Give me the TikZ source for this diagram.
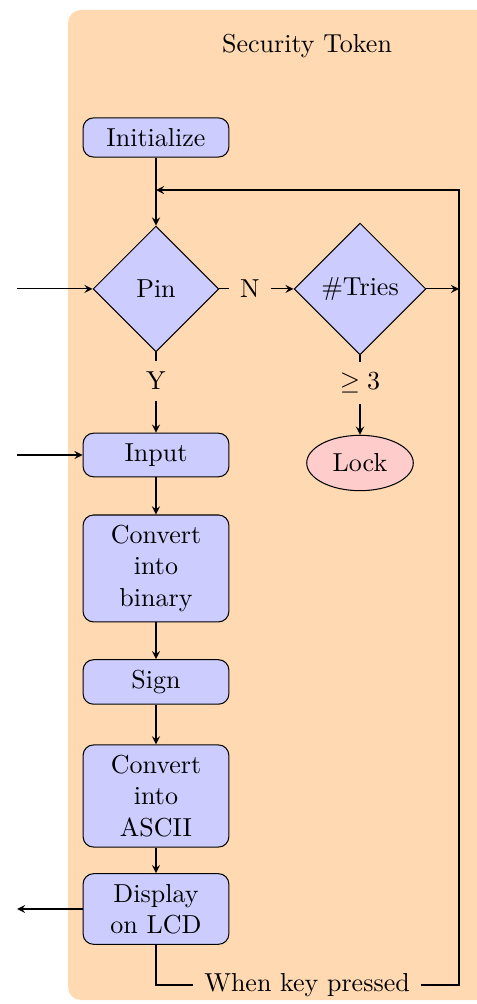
\documentclass[tikz,border=0pt]{standalone}
\usepackage{amsmath}
\usepackage{amssymb}
\usetikzlibrary{shapes.geometric}

\begin{document}
\begin{tikzpicture}[>=stealth,
    block/.style={draw, fill=blue!20, rounded corners=4pt, align=center,
      text width=1.4cm, minimum width=1.97cm, inner sep=4pt},
    decision/.style={draw, diamond, aspect=1, fill=blue!20,
      minimum width=1.7cm, minimum height=1.7cm, inner sep=3pt},
    stopper/.style={draw, ellipse, fill=red!20, inner sep=4pt},
    tag/.style={inner sep=4pt}]
      % Frame and title
      \useasboundingbox (0,0) rectangle (6.446,-13.568);
      \fill[orange!30, rounded corners=5pt] (0.919,-0.135) rectangle
      (6.62,-13.514);
      \node (title) at (4.149,-0.622) {Security Token};
      % Main chain
      \node[block] (init) at (2.108,-1.858) {Initialize};
      \node[decision] (pin) at (2.108,-3.905) {Pin};
      \node[tag] (yes) at (2.108,-5.149) {Y};
      \node[block] (input) at (2.108,-6.149) {Input};
      \node[block] (binary) at (2.108,-7.682) {Convert into binary};
      \node[block] (sign) at (2.108,-9.216) {Sign};
      \node[block] (ascii) at (2.108,-10.757) {Convert into ASCII};
      \node[block] (lcd) at (2.108,-12.284) {Display on LCD};
      % Retry branch
      \node[tag] (no) at (3.378,-3.905) {N};
      \node[decision] (tries) at (4.865,-3.905) {\#Tries};
      \node[tag] (three) at (4.865,-5.176) {$\geq 3$};
      \node[stopper] (lock) at (4.865,-6.257) {Lock};
      \node[tag] (key) at (4.149,-13.311) {When key pressed};
      % Loose ends
      \coordinate (back) at (6.203,-2.568);
      \coordinate (pinin) at (0.23,-3.905);
      \coordinate (inputin) at (0.23,-6.149);
      \coordinate (lcdout) at (0.23,-12.284);
      % Arrows
      \draw[->] (init) -- (pin);
      \draw (pin) -- (yes);
      \draw[->] (yes) -- (input);
      \draw[->] (input) -- (binary);
      \draw[->] (binary) -- (sign);
      \draw[->] (sign) -- (ascii);
      \draw[->] (ascii) -- (lcd);
      \draw (pin) -- (no);
      \draw[->] (no) -- (tries);
      \draw (tries) -- (three);
      \draw[->] (three) -- (lock);
      \draw[->] (pinin) -- (pin);
      \draw[->] (inputin) -- (input);
      \draw[->] (lcd) -- (lcdout);
      % Loop back to the pin check
      \draw (lcd) |- (key);
      \draw[->] (key) -| (back) -- (back -| init);
      \draw[->] (tries) -- (tries -| back);
\end{tikzpicture}
\end{document}
